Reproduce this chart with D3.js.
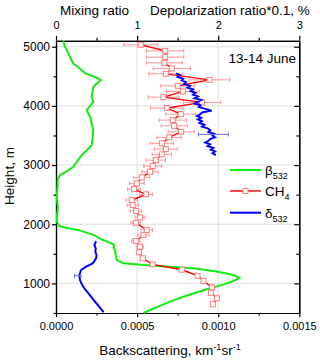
<!DOCTYPE html>
<html>
<head>
<meta charset="utf-8">
<script src="https://cdn.jsdelivr.net/npm/d3@7"></script>
<style>
  body { margin: 0; background: #fff; }
  svg text { font-family: Arial, "Liberation Sans", sans-serif; fill: #000; }
</style>
</head>
<body>
<svg id="chart"></svg>
<script>
// tick values
var heightTicks = [1000, 2000, 3000, 4000, 5000];
var heightMinor = [500, 1500, 2500, 3500, 4500];
var backTicks = [0, 0.0005, 0.001, 0.0015];
var backMinor = [0.00025, 0.00075, 0.00125];
var mixTicks = [0, 1, 2, 3];
var mixMinor = [0.5, 1.5, 2.5];

// beta 532 (backscattering, bottom axis)
var betaHeight = [5100, 5000, 4900, 4800, 4717, 4650, 4554, 4500, 4464, 4435, 4400, 4322, 4250, 4153, 4069, 4000, 3928, 3870, 3815, 3700, 3590, 3450, 3338, 3250, 3197, 3100, 2971, 2900, 2831, 2750, 2662, 2500, 2409, 2290, 2155, 2037, 1970, 1940, 1900, 1820, 1733, 1690, 1648, 1600, 1564, 1535, 1450, 1395, 1339, 1300, 1255, 1200, 1142, 1096, 1040, 980, 917, 850, 775, 700, 620, 551, 500];
var betaValue = [0.000045, 0.000055, 0.000075, 0.00009, 0.000107, 0.00014, 0.000179, 0.00023, 0.000261, 0.000276, 0.00026, 0.00023, 0.000225, 0.00022, 0.00023, 0.00021, 0.000189, 0.0002, 0.00021, 0.00022, 0.00023, 0.000225, 0.00022, 0.00019, 0.000168, 0.00014, 0.000107, 0.00007, 0.000025, 0.00001, 0.00001, 0.000005, 0.000006, 0.000012, 0.000006, 0.000006, 0.00002, 0.00006, 0.00014, 0.00023, 0.00029, 0.00033, 0.00036, 0.000355, 0.000364, 0.000365, 0.00037, 0.000375, 0.000415, 0.0006, 0.000847, 0.00099, 0.001094, 0.001131, 0.001094, 0.00103, 0.00095, 0.00087, 0.000785, 0.00071, 0.00064, 0.00058, 0.000539];

// CH4 mixing ratio (top axis)
var ch4Height = [5032, 4930, 4824, 4728, 4633, 4542, 4440, 4339, 4244, 4148, 4059, 3963, 3861, 3760, 3663, 3562, 3468, 3366, 3270, 3180, 3084, 2983, 2887, 2792, 2691, 2594, 2505, 2409, 2324, 2223, 2116, 2025, 1902, 1817, 1716, 1620, 1525, 1424, 1322, 1231, 1130, 1040, 934, 843, 748, 647];
var ch4Value = [1.045, 1.346, 1.346, 1.337, 1.428, 1.354, 1.893, 1.502, 1.564, 1.325, 1.802, 1.366, 1.539, 1.44, 1.457, 1.543, 1.395, 1.305, 1.354, 1.305, 1.23, 1.193, 1.16, 1.058, 0.996, 0.963, 1.111, 0.934, 0.946, 0.988, 1.037, 0.984, 1.119, 1.078, 0.984, 1.037, 1.025, 1.07, 1.193, 1.551, 1.745, 1.819, 1.922, 1.91, 1.984, 1.934];
var ch4Error = [0.21, 0.23, 0.23, 0.22, 0.23, 0.21, 0.25, 0.21, 0.2, 0.19, 0.23, 0.2, 0.185, 0.17, 0.16, 0.16, 0.15, 0.14, 0.14, 0.12, 0.12, 0.11, 0.1, 0.1, 0.09, 0.08, 0.08, 0.07, 0.07, 0.07, 0.06, 0.06, 0.07, 0.07, 0.05, 0.04, 0.03, 0.03, 0.02, 0.02, 0.02, 0.02, 0.02, 0.02, 0.02, 0.02];

// delta 532 depolarization (top axis), two segments
var deltaUpperHeight = [4550, 4520, 4490, 4460, 4430, 4400, 4370, 4340, 4310, 4280, 4250, 4220, 4190, 4160, 4130, 4100, 4070, 4040, 4010, 3980, 3950, 3920, 3890, 3860, 3830, 3800, 3770, 3740, 3710, 3680, 3650, 3620, 3590, 3560, 3530, 3500, 3470, 3440, 3410, 3380, 3350, 3320, 3290, 3260, 3230, 3200, 3170];
var deltaUpperValue = [1.48, 1.53, 1.5, 1.57, 1.55, 1.6, 1.58, 1.65, 1.62, 1.69, 1.66, 1.72, 1.69, 1.75, 1.71, 1.79, 1.74, 1.71, 1.78, 1.76, 1.84, 1.92, 1.8, 1.78, 1.74, 1.79, 1.75, 1.8, 1.77, 1.83, 1.8, 1.87, 1.9, 1.88, 1.95, 1.93, 1.96, 1.9, 1.88, 1.84, 1.9, 1.87, 1.94, 1.91, 1.96, 1.93, 1.97];
var deltaLowerHeight = [1716, 1649, 1590, 1535, 1480, 1424, 1339, 1282, 1226, 1142, 1057, 980, 917, 850, 775, 700, 635, 534, 512];
var deltaLowerValue = [0.494, 0.473, 0.49, 0.485, 0.5, 0.494, 0.453, 0.37, 0.309, 0.288, 0.296, 0.32, 0.349, 0.39, 0.432, 0.475, 0.515, 0.577, 0.584];
var deltaErrHeight = [3518, 1130];
var deltaErrValue = [1.94, 0.268];
var deltaErr = [0.185, 0.04];

var width = 320;
var height = 361;
var padL = 56, padR = 299.3, padT = 40.8, padB = 313;

var svg = d3.select("#chart").attr("width", width).attr("height", height);

var xScale = d3.scaleLinear().domain([0, 0.0015]).range([padL, padR]);
var xTop = d3.scaleLinear().domain([0, 3]).range([padL, padR]);
var yScale = d3.scaleLinear().domain([500, 5100]).range([padB, padT]);

// grid
svg.selectAll(".vgrid")
  .data([0.0005, 0.001])
  .enter()
  .append("line")
  .attr("x1", function (d) { return xScale(d); })
  .attr("x2", function (d) { return xScale(d); })
  .attr("y1", padT)
  .attr("y2", padB)
  .style("stroke", "#dedede")
  .style("stroke-width", 1);

svg.selectAll(".hgrid")
  .data(heightTicks)
  .enter()
  .append("line")
  .attr("x1", padL)
  .attr("x2", padR)
  .attr("y1", function (d) { return yScale(d); })
  .attr("y2", function (d) { return yScale(d); })
  .style("stroke", "#dedede")
  .style("stroke-width", 1);

// axes
function styleAxis(g, size) {
  g.attr("font-family", "Arial, 'Liberation Sans', sans-serif").attr("font-size", size);
  g.selectAll("path, line").style("stroke", "#000").style("stroke-width", 1.2);
  g.selectAll("text").style("fill", "#000");
}

svg.append("g")
  .attr("transform", "translate(0," + padB + ")")
  .call(d3.axisBottom(xScale).tickValues(backTicks).tickFormat(d3.format(".4f")).tickSize(4).tickSizeOuter(0).tickPadding(5.5))
  .call(styleAxis, 11);
svg.append("g")
  .attr("transform", "translate(0," + padB + ")")
  .call(d3.axisBottom(xScale).tickValues(backMinor).tickFormat("").tickSize(2.5).tickSizeOuter(0))
  .call(styleAxis, 11);

svg.append("g")
  .attr("transform", "translate(0," + padT + ")")
  .call(d3.axisTop(xTop).tickValues(mixTicks).tickFormat(d3.format("d")).tickSize(5).tickSizeOuter(0).tickPadding(6.5))
  .call(styleAxis, 11);
svg.append("g")
  .attr("transform", "translate(0," + padT + ")")
  .call(d3.axisTop(xTop).tickValues(mixMinor).tickFormat("").tickSize(3).tickSizeOuter(0))
  .call(styleAxis, 11);

svg.append("g")
  .attr("transform", "translate(" + padL + ",0)")
  .call(d3.axisLeft(yScale).tickValues(heightTicks).tickFormat(d3.format("d")).tickSize(4).tickSizeOuter(0).tickPadding(2))
  .call(styleAxis, 12);
svg.append("g")
  .attr("transform", "translate(" + padL + ",0)")
  .call(d3.axisLeft(yScale).tickValues(heightMinor).tickFormat("").tickSize(2.5).tickSizeOuter(0))
  .call(styleAxis, 12);

svg.append("g")
  .attr("transform", "translate(" + padR + ",0)")
  .call(d3.axisRight(yScale).tickValues(heightTicks).tickFormat("").tickSize(-5).tickSizeOuter(0))
  .call(styleAxis, 12);
svg.append("g")
  .attr("transform", "translate(" + padR + ",0)")
  .call(d3.axisRight(yScale).tickValues(heightMinor).tickFormat("").tickSize(-3).tickSizeOuter(0))
  .call(styleAxis, 12);

// beta line
var betaData = betaHeight.map(function (h, i) { return { h: h, v: betaValue[i] }; });
svg.append("path")
  .datum(betaData)
  .attr("fill", "none")
  .attr("stroke", "#14ec14")
  .attr("stroke-width", 2)
  .attr("d", d3.line()
    .x(function (d) { return xScale(d.v); })
    .y(function (d) { return yScale(d.h); }));

// CH4
var ch4Data = ch4Height.map(function (h, i) { return { h: h, v: ch4Value[i], e: ch4Error[i] }; });
var errColor = "#ff9494";

var errG = svg.append("g").style("stroke", errColor).style("stroke-width", 1);
ch4Data.forEach(function (d) {
  var yy = yScale(d.h);
  errG.append("line").attr("x1", xTop(d.v - d.e)).attr("x2", xTop(d.v + d.e)).attr("y1", yy).attr("y2", yy);
  errG.append("line").attr("x1", xTop(d.v - d.e)).attr("x2", xTop(d.v - d.e)).attr("y1", yy - 2).attr("y2", yy + 2);
  errG.append("line").attr("x1", xTop(d.v + d.e)).attr("x2", xTop(d.v + d.e)).attr("y1", yy - 2).attr("y2", yy + 2);
});

svg.append("path")
  .datum(ch4Data)
  .attr("fill", "none")
  .attr("stroke", "#ff0000")
  .attr("stroke-width", 1.4)
  .attr("d", d3.line()
    .x(function (d) { return xTop(d.v); })
    .y(function (d) { return yScale(d.h); }));

svg.selectAll(".ch4dot")
  .data(ch4Data)
  .enter()
  .append("rect")
  .attr("class", "ch4dot")
  .attr("x", function (d) { return xTop(d.v) - 2.5; })
  .attr("y", function (d) { return yScale(d.h) - 2.5; })
  .attr("width", 5)
  .attr("height", 5)
  .style("fill", "#fff")
  .style("stroke", "#ff7a7a")
  .style("stroke-width", 1);

// delta
var deltaLine = d3.line()
  .x(function (d) { return xTop(d.v); })
  .y(function (d) { return yScale(d.h); });
var upper = deltaUpperHeight.map(function (h, i) { return { h: h, v: deltaUpperValue[i] }; });
var lower = deltaLowerHeight.map(function (h, i) { return { h: h, v: deltaLowerValue[i] }; });
[upper, lower].forEach(function (seg) {
  svg.append("path")
    .datum(seg)
    .attr("fill", "none")
    .attr("stroke", "#0000ff")
    .attr("stroke-width", 2)
    .attr("d", deltaLine);
});

var dErrG = svg.append("g").style("stroke", "#6a6aff").style("stroke-width", 1);
deltaErrHeight.forEach(function (h, i) {
  var yy = yScale(h);
  var a = xTop(deltaErrValue[i] - deltaErr[i]);
  var b = xTop(deltaErrValue[i] + deltaErr[i]);
  dErrG.append("line").attr("x1", a).attr("x2", b).attr("y1", yy).attr("y2", yy);
  dErrG.append("line").attr("x1", a).attr("x2", a).attr("y1", yy - 2).attr("y2", yy + 2);
  dErrG.append("line").attr("x1", b).attr("x2", b).attr("y1", yy - 2).attr("y2", yy + 2);
});

// titles
svg.append("text").attr("x", 60).attr("y", 15).style("font-size", "13.5px").text("Mixing ratio");
svg.append("text").attr("x", 150).attr("y", 15).style("font-size", "13.5px").text("Depolarization ratio*0.1, %");

var xt = svg.append("text")
  .attr("x", 170)
  .attr("y", 355)
  .attr("text-anchor", "middle")
  .style("font-size", "13.5px");
xt.append("tspan").text("Backscattering, km");
xt.append("tspan").attr("dy", -5).style("font-size", "9px").text("-1");
xt.append("tspan").attr("dy", 5).text("sr");
xt.append("tspan").attr("dy", -5).style("font-size", "9px").text("-1");

svg.append("text")
  .attr("text-anchor", "middle")
  .attr("transform", "translate(14,176)rotate(-90)")
  .style("font-size", "13.5px")
  .text("Height, m");

svg.append("text")
  .attr("x", 296)
  .attr("y", 63.3)
  .attr("text-anchor", "end")
  .style("font-size", "13.5px")
  .text("13-14 June");

// legend
var legendY = [170, 191, 212.7];
svg.append("line").attr("x1", 230).attr("x2", 261).attr("y1", legendY[0]).attr("y2", legendY[0])
  .style("stroke", "#14ec14").style("stroke-width", 2);
svg.append("line").attr("x1", 230).attr("x2", 261).attr("y1", legendY[1]).attr("y2", legendY[1])
  .style("stroke", "#ff0000").style("stroke-width", 1.4);
svg.append("rect").attr("x", 243).attr("y", legendY[1] - 2.5).attr("width", 5).attr("height", 5)
  .style("fill", "#fff").style("stroke", "#ff7a7a");
svg.append("line").attr("x1", 230).attr("x2", 261).attr("y1", legendY[2]).attr("y2", legendY[2])
  .style("stroke", "#0000ff").style("stroke-width", 2);

var legendNames = [["\u03b2", "532"], ["CH", "4"], ["\u03b4", "532"]];
legendNames.forEach(function (n, i) {
  var t = svg.append("text").attr("x", 265).attr("y", legendY[i] + 5).style("font-size", "13.5px");
  t.append("tspan").text(n[0]);
  t.append("tspan").attr("dy", 4).style("font-size", "9px").text(n[1]);
});
</script>
</body>
</html>
